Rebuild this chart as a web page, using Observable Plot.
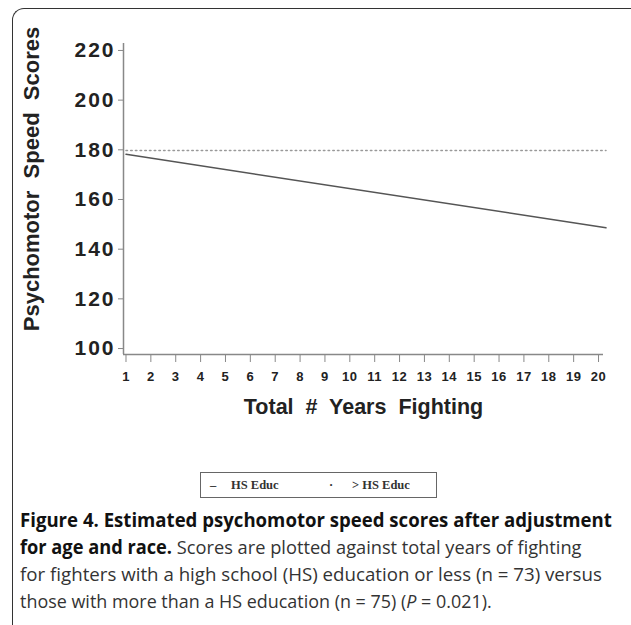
<!DOCTYPE html>
<html>
<head>
<meta charset="utf-8">
<script src="https://cdn.jsdelivr.net/npm/d3@7"></script>
<script src="https://cdn.jsdelivr.net/npm/@observablehq/plot@0.6"></script>
<style>
  html, body { margin: 0; padding: 0; background: #fff; overflow: hidden; }
  body { width: 631px; height: 625px; position: relative; }
  #frame { position: absolute; left: 12px; top: 8px; width: 660px; height: 660px;
    border-left: 1.5px solid #333; border-top: 1.5px solid #333; border-top-left-radius: 12px; }
  #chart { position: absolute; left: 0; top: 0; }
  #legend { position: absolute; left: 200px; top: 472px; width: 235px; height: 24px;
    border: 1px solid #666; font-family: "Liberation Serif", "DejaVu Serif", serif;
    font-weight: bold; font-size: 12.5px; color: #333; }
  #legend span { position: absolute; top: 5px; white-space: nowrap; }
  #caption { position: absolute; left: 0; top: 500px; }
</style>
</head>
<body>
<div id="frame"></div>
<div id="chart"></div>
<div id="legend"></div>
<svg id="caption" width="631" height="125"></svg>
<script>
// ---- data ----
const years = [1, 20.3];
const hsEduc = [178.2, 148.6];      // "HS Educ" (solid)
const gtHsEduc = [179.7, 179.7];    // "> HS Educ" (dotted)
const xTicks = [1,2,3,4,5,6,7,8,9,10,11,12,13,14,15,16,17,18,19,20];
const yTicks = [100,120,140,160,180,200,220];
const seriesNames = ["HS Educ", "> HS Educ"];
const xLabel = "Total  #  Years  Fighting";
const yLabel = "Psychomotor  Speed  Scores";

const rows = [];
years.forEach((x, i) => {
  rows.push({x, y: hsEduc[i], s: seriesNames[0]});
  rows.push({x, y: gtHsEduc[i], s: seriesNames[1]});
});
const xDom = [0.9, 20.2], yDom = [97.6, 222.8];

const chart = Plot.plot({
  width: 631, height: 440,
  marginLeft: 123, marginRight: 28, marginTop: 43, marginBottom: 86,
  x: {domain: xDom},
  y: {domain: yDom},
  style: {background: "transparent", fontFamily: "'Liberation Sans', Arial, sans-serif", color: "#222"},
  marks: [
    Plot.axisY({ticks: yTicks, tickSize: 5, tickPadding: 3, fontSize: 21, fontWeight: "bold",
      stroke: "#888", label: null, tickFormat: d => String(d)}),
    Plot.axisX({ticks: xTicks, tickSize: 8, tickPadding: 9, fontSize: 13,
      stroke: "#888", label: null, tickFormat: d => String(d)}),
    Plot.ruleX([xDom[0]], {stroke: "#888", strokeWidth: 1.5}),
    Plot.ruleY([yDom[0]], {stroke: "#888", strokeWidth: 1.5}),
    Plot.line(rows.filter(d => d.s === seriesNames[1]), {x: "x", y: "y", stroke: "#999", strokeWidth: 1.5, strokeDasharray: "1.5,3.2"}),
    Plot.line(rows.filter(d => d.s === seriesNames[0]), {x: "x", y: "y", stroke: "#555", strokeWidth: 1.5}),
    Plot.text([yLabel], {frameAnchor: "left", textAnchor: "middle", dx: -92, dy: -20, rotate: -90, fontSize: 22, fontWeight: "bold", fill: "#222", text: d => d}),
    Plot.text([xLabel], {frameAnchor: "bottom", dy: 59, fontSize: 21.5, fontWeight: "bold", fill: "#222", text: d => d})
  ]
});
const yTickGroup = chart.querySelector('[aria-label="y-axis tick label"]');
if (yTickGroup) yTickGroup.querySelectorAll("text").forEach(t => t.style.letterSpacing = "2px");
const xTickGroup = chart.querySelector('[aria-label="x-axis tick label"]');
if (xTickGroup) xTickGroup.querySelectorAll("text").forEach(t => { t.style.letterSpacing = "0.5px"; t.style.fontWeight = "600"; });
document.getElementById("chart").appendChild(chart);

// ---- legend ----
const legend = document.getElementById("legend");
[["\u2013", 9], [seriesNames[0], 30], ["\u00B7", 128], [seriesNames[1], 151]].forEach(([t, x]) => {
  const s = document.createElement("span");
  s.textContent = t; s.style.left = x + "px";
  legend.appendChild(s);
});

// ---- caption ----
const cap = d3.select("#caption");
const lines = [
  {y: 27, w: 592, parts: [["Figure 4. Estimated psychomotor speed scores after adjustment", "bold"]]},
  {y: 54, w: 562, parts: [["for age and race.", "bold"], [" Scores are plotted against total years of fighting", "normal"]]},
  {y: 81, w: 582, parts: [["for fighters with a high school (HS) education or less (n = 73) versus", "normal"]]},
  {y: 108, w: 472, parts: [["those with more than a HS education (n = 75) (", "normal"], ["P", "italic"], [" = 0.021).", "normal"]]}
];
lines.forEach(l => {
  const g = cap.append("g");
  const t = g.append("text").attr("x", 0).attr("y", 0)
    .attr("font-family", "'Open Sans', 'Noto Sans', sans-serif").attr("font-size", 19);
  l.parts.forEach(([s, st]) => {
    const ts = t.append("tspan").text(s);
    if (st === "bold") ts.attr("font-weight", "bold").attr("fill", "#111");
    else ts.attr("fill", "#333");
    if (st === "italic") ts.attr("font-style", "italic");
  });
  const len = t.node().getComputedTextLength() || l.w;
  g.attr("transform", `translate(20,${l.y}) scale(${l.w / len},1)`);
});
</script>
</body>
</html>
